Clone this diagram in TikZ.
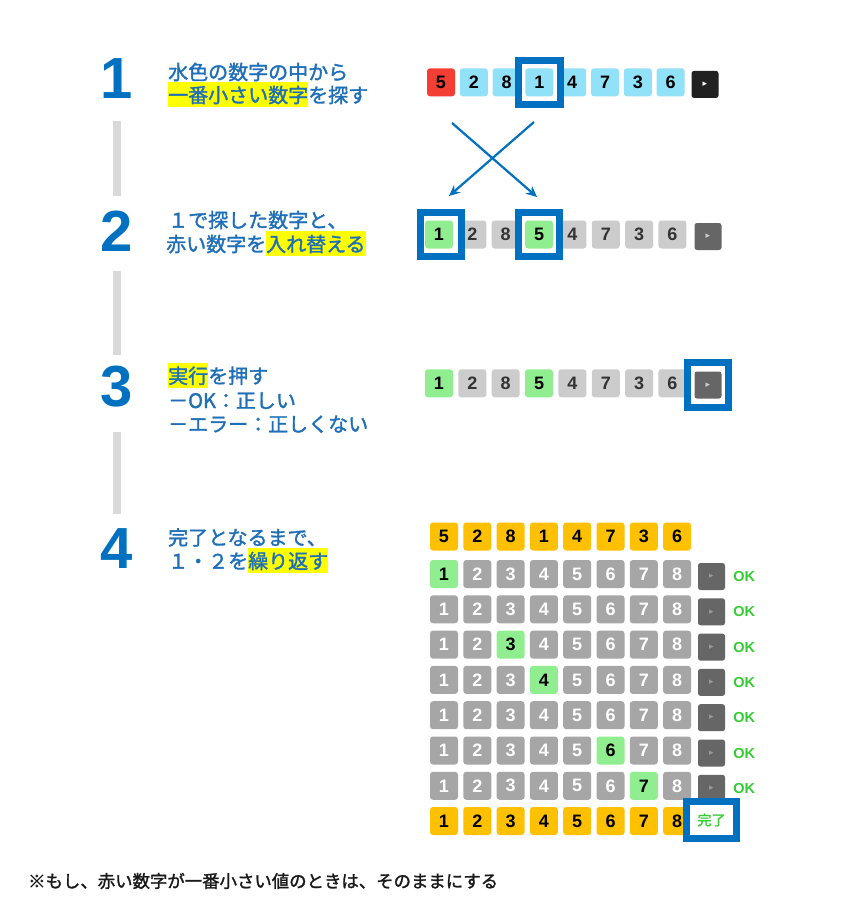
\documentclass[tikz,border=0pt]{standalone}
\usepackage{fontspec}
\setmainfont{Liberation Sans}
\newfontfamily\jp{Noto Sans CJK JP}[FakeBold=1.6]
\newfontfamily\sym{DejaVu Sans}
\usepackage{tikz}
\usetikzlibrary{positioning}
\usetikzlibrary{arrows.meta}
\definecolor{numblue}{HTML}{0070C0}
\definecolor{txtblue}{HTML}{1E6FB8}
\definecolor{txtdark}{HTML}{333333}
\definecolor{hlyellow}{HTML}{FFFF00}
\definecolor{bargray}{HTML}{D9D9D9}
\definecolor{tilered}{HTML}{F23E33}
\definecolor{tileblue}{HTML}{91E1F8}
\definecolor{tilegreen}{HTML}{90EE90}
\definecolor{tilelight}{HTML}{CCCCCC}
\definecolor{tilegrid}{HTML}{A6A6A6}
\definecolor{tileyellow}{HTML}{FFC000}
\definecolor{playgray}{HTML}{666666}
\definecolor{okgreen}{HTML}{33CC33}
\tikzstyle{tile}=[rectangle,rounded corners=3pt,minimum size=28pt,inner sep=0pt,font=\bfseries\fontsize{18}{18}\selectfont]
\tikzstyle{playbtn}=[rectangle,rounded corners=2.5pt,minimum size=27pt,inner sep=0pt,font=\sym\fontsize{9}{9}\selectfont]
\tikzstyle{selbox}=[rectangle,draw=numblue,line width=7pt,inner sep=0pt]
\tikzstyle{stepnum}=[text=numblue,font=\bfseries\fontsize{58}{58}\selectfont,inner sep=0pt]
\tikzstyle{steptext}=[text=txtblue,font=\jp\fontsize{20}{24}\selectfont,anchor=base west,inner sep=0pt]
\tikzstyle{stepbar}=[draw=bargray,line width=8pt]
\tikzstyle{swaparrow}=[draw=numblue,line width=2.2pt,-{Stealth[length=11pt,width=10pt]}]
\tikzstyle{oklabel}=[text=okgreen,font=\bfseries\fontsize{14.5}{14.5}\selectfont,anchor=west,inner sep=0pt]
\newcommand\hlt[1]{{\setlength\fboxsep{0pt}\colorbox{hlyellow}{\rule[-4.4pt]{0pt}{25pt}#1}}}

\begin{document}
\begin{tikzpicture}[x=1pt,y=-1pt]

   \fill[white] (0,0) rectangle (853,900);
   \useasboundingbox (0,0) rectangle (853,900);

    \foreach \pos/\name/\num in {{(116.5,79)/n1/1}, {(116.5,231)/n2/2}, {(116.5,387)/n3/3}, {(116.5,549)/n4/4}}
        \node[stepnum] (\name) at \pos {\num};

\draw[stepbar, shorten <=22pt, shorten >=15pt] (n1) -- (n2);
\draw[stepbar, shorten <=20pt, shorten >=11pt] (n2) -- (n3);
\draw[stepbar, shorten <=24pt, shorten >=15pt] (n3) -- (n4);

\node[steptext] (t1a) at (168,79.6) {水色の数字の中から};
\node[steptext] (t1b) at (168,102.6) {\hlt{一番小さい数字}を探す};
\node[steptext] (t2a) at (168,227.6) {１で探した数字と、};
\node[steptext] (t2b) at (166,251.6) {赤い数字を\hlt{入れ替える}};
\node[steptext] (t3a) at (168,383.4) {\hlt{実行}を押す};
\node[steptext] (t3b) at (168,408) {－OK：正しい};
\node[steptext] (t3c) at (168,431.6) {－エラー：正しくない};
\node[steptext] (t4a) at (168,545) {完了となるまで、};
\node[steptext] (t4b) at (168,568.6) {１・２を\hlt{繰り返す}};

    % row 1: search
    \foreach \i/\n/\col in {1/5/tilered, 2/2/tileblue, 3/8/tileblue, 4/1/tileblue, 5/4/tileblue, 6/7/tileblue, 7/3/tileblue, 8/6/tileblue}
        \node[tile, fill=\col] (r1-\i) at ({441+32.8*(\i-1)},82.3) {\n};
\node[playbtn, fill=black!87, text=white] (p1) at (705,84.4) {▸};
\node[selbox, minimum width=42pt, minimum height=44pt] (sel1) at (r1-4) {};

\coordinate (xa) at (452,123);
\coordinate (xb) at (534,122);
\coordinate (ya) at (449,196);
\coordinate (yb) at (537,197);
\draw[swaparrow] (xa) -- (yb);
\draw[swaparrow] (xb) -- (ya);

    % row 2: swap
    \foreach \i/\n/\col/\tc in {1/1/tilegreen/black, 2/2/tilelight/txtdark, 3/8/tilelight/txtdark, 4/5/tilegreen/black, 5/4/tilelight/txtdark, 6/7/tilelight/txtdark, 7/3/tilelight/txtdark, 8/6/tilelight/txtdark}
        \node[tile, fill=\col, text=\tc] (r2-\i) at ({439+33.35*(\i-1)},234.5) {\n};
\node[playbtn, fill=playgray, text=tilelight] (p2) at (708,236.5) {▸};
\node[selbox, minimum width=41pt, minimum height=44pt] (sel2a) at ([xshift=2pt]r2-1) {};
\node[selbox, minimum width=41pt, minimum height=44pt] (sel2b) at (r2-4) {};

    % row 3: run
    \foreach \i/\n/\col/\tc in {1/1/tilegreen/black, 2/2/tilelight/txtdark, 3/8/tilelight/txtdark, 4/5/tilegreen/black, 5/4/tilelight/txtdark, 6/7/tilelight/txtdark, 7/3/tilelight/txtdark, 8/6/tilelight/txtdark}
        \node[tile, fill=\col, text=\tc] (r3-\i) at ({439+33.35*(\i-1)},383.3) {\n};
\node[playbtn, fill=playgray, text=tilelight] (p3) at (708,385) {▸};
\node[selbox, minimum width=41pt, minimum height=45pt] (sel3) at (p3) {};

    % row 4: repeat
    \foreach \i/\n in {1/5, 2/2, 3/8, 4/1, 5/4, 6/7, 7/3, 8/6}
        \node[tile, fill=tileyellow] (y0-\i) at ({444+33.3*(\i-1)},536.5) {\n};
    \foreach \k/\g in {1/1, 2/0, 3/3, 4/4, 5/0, 6/6, 7/7} {
        \foreach \i in {1,...,8} {
            \ifnum\i=\g \def\fc{tilegreen}\def\tc{black}\else\def\fc{tilegrid}\def\tc{white}\fi
            \node[tile, fill=\fc, text=\tc] (g\k-\i) at ({444+33.3*(\i-1)},{574+35.3*(\k-1)}) {\i};
        }
        \node[playbtn, fill=playgray, text=black!40] (gp\k) at (711.5,{576.5+35.3*(\k-1)}) {▸};
        \node[oklabel, right=8pt of gp\k] (ok\k) {OK};
    }
    \foreach \i in {1,...,8}
        \node[tile, fill=tileyellow] (y8-\i) at ({444+33.3*(\i-1)},821) {\i};
\node[selbox, fill=white, text=okgreen, font=\jp\fontsize{14}{14}\selectfont, minimum width=50pt, minimum height=37pt] (done) at (711.5,820) {完了};

\node[anchor=base west, inner sep=0pt, text=black!90, font=\jp\fontsize{17.4}{17.4}\selectfont] (note) at (28,887.6) {※もし、赤い数字が一番小さい値のときは、そのままにする};

\end{tikzpicture}
\end{document}
